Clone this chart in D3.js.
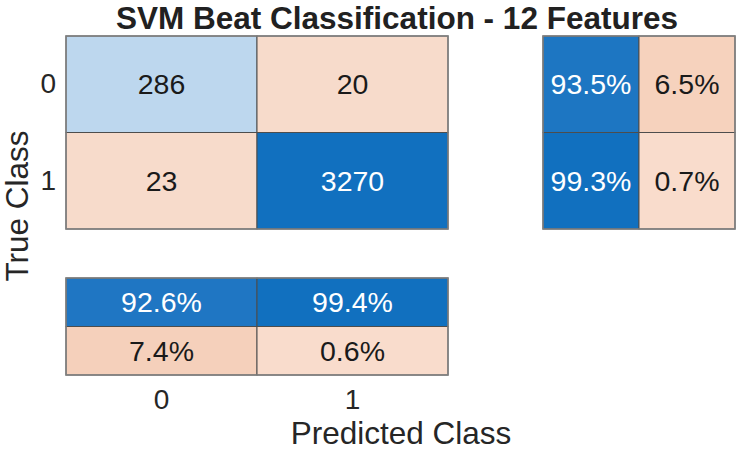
<!DOCTYPE html>
<html>
<head>
<meta charset="utf-8">
<script src="https://cdn.jsdelivr.net/npm/d3@7"></script>
<style>
  html, body { margin: 0; padding: 0; background: #fff; }
  svg { display: block; font-family: "Liberation Sans", Arial, Helvetica, sans-serif; }
</style>
</head>
<body>
<svg id="chart" width="738" height="450"></svg>
<script>
// ---- data ----
const title = "SVM Beat Classification - 12 Features";
const classes = ["0", "1"];
const counts = [[286, 20], [23, 3270]];           // rows = true class, cols = predicted
const rowSummary = [[93.5, 6.5], [99.3, 0.7]];    // per true class: correct %, incorrect %
const colSummary = [[92.6, 99.4], [7.4, 0.6]];    // row 0 = correct %, row 1 = incorrect %
const xLabel = "Predicted Class";
const yLabel = "True Class";

// ---- drawing ----
const svg = d3.select("#chart");
const x = d3.scaleBand().domain(classes).range([66, 448]);
const y = d3.scaleBand().domain(classes).range([36, 229]);
const xs = d3.scaleBand().domain(["correct", "incorrect"]).range([543, 735]);
const ys = d3.scaleBand().domain(["correct", "incorrect"]).range([278, 375]);

const countDiag = d3.scaleLinear().domain([286, 3270]).range(["#BDD7EE", "#1170BF"]);
const offColor = d3.scaleLinear().domain([0, 10]).range(["#F9DDCE", "#F4CCB4"]).clamp(true);
const onColor = d3.scaleLinear().domain([90, 100]).range(["#2479C4", "#106FBF"]).clamp(true);
const textCol = bg => (d3.hsl(bg).l < 0.55 ? "#ffffff" : "#1a1a1a");

const cellFont = 28.5;

function drawCell(g, x0, y0, w, h, fill, label) {
  g.append("rect").attr("x", x0).attr("y", y0).attr("width", w).attr("height", h)
    .attr("fill", fill).attr("stroke", "#4d4d4d").attr("stroke-width", 1);
  g.append("text").attr("x", x0 + w / 2).attr("y", y0 + h / 2)
    .attr("text-anchor", "middle").attr("dominant-baseline", "central")
    .attr("font-size", cellFont).attr("fill", textCol(fill)).text(label);
}

// main matrix
const gMain = svg.append("g");
classes.forEach((tc, i) => classes.forEach((pc, j) => {
  const v = counts[i][j];
  const fill = i === j ? countDiag(v) : "#F7DBCB";
  drawCell(gMain, x(pc), y(tc), x.bandwidth(), y.bandwidth(), fill, v);
}));
gMain.append("rect").attr("x", 66).attr("y", 36).attr("width", 382).attr("height", 193)
  .attr("fill", "none").attr("stroke", "#808080").attr("stroke-width", 1.5);

// row summary
const gRow = svg.append("g");
classes.forEach((tc, i) => ["correct", "incorrect"].forEach((k, j) => {
  const v = rowSummary[i][j];
  const fill = j === 0 ? onColor(v) : offColor(v);
  drawCell(gRow, xs(k), y(tc), xs.bandwidth(), y.bandwidth(), fill, v.toFixed(1) + "%");
}));
gRow.append("rect").attr("x", 543).attr("y", 36).attr("width", 192).attr("height", 193)
  .attr("fill", "none").attr("stroke", "#808080").attr("stroke-width", 1.5);

// column summary
const gCol = svg.append("g");
["correct", "incorrect"].forEach((k, i) => classes.forEach((pc, j) => {
  const v = colSummary[i][j];
  const fill = i === 0 ? onColor(v) : offColor(v);
  drawCell(gCol, x(pc), ys(k), x.bandwidth(), ys.bandwidth(), fill, v.toFixed(1) + "%");
}));
gCol.append("rect").attr("x", 66).attr("y", 278).attr("width", 382).attr("height", 97)
  .attr("fill", "none").attr("stroke", "#808080").attr("stroke-width", 1.5);

// axes (tick labels only)
const xAxis = d3.axisBottom(x).tickSize(0).tickPadding(0);
const gx = svg.append("g").attr("transform", "translate(0,389)").call(xAxis);
gx.select(".domain").remove();
gx.selectAll("text").attr("font-size", 28).attr("fill", "#262626")
  .attr("font-family", "'Liberation Sans', Arial, sans-serif").attr("dy", "0.71em");

const yAxis = d3.axisLeft(y).tickSize(0).tickPadding(10);
const gy = svg.append("g").attr("transform", "translate(66,0)").call(yAxis);
gy.select(".domain").remove();
gy.selectAll("text").attr("font-size", 28).attr("fill", "#262626")
  .attr("font-family", "'Liberation Sans', Arial, sans-serif");

// labels
svg.append("text").attr("x", 401).attr("y", 444).attr("text-anchor", "middle")
  .attr("font-size", 31.5).attr("fill", "#262626").text(xLabel);
svg.append("text").attr("transform", "translate(28,206) rotate(-90)").attr("text-anchor", "middle")
  .attr("font-size", 31.5).attr("fill", "#262626").text(yLabel);
svg.append("text").attr("x", 397).attr("y", 29).attr("text-anchor", "middle")
  .attr("font-size", 31.5).attr("font-weight", "bold").attr("fill", "#212121").text(title);
</script>
</body>
</html>
